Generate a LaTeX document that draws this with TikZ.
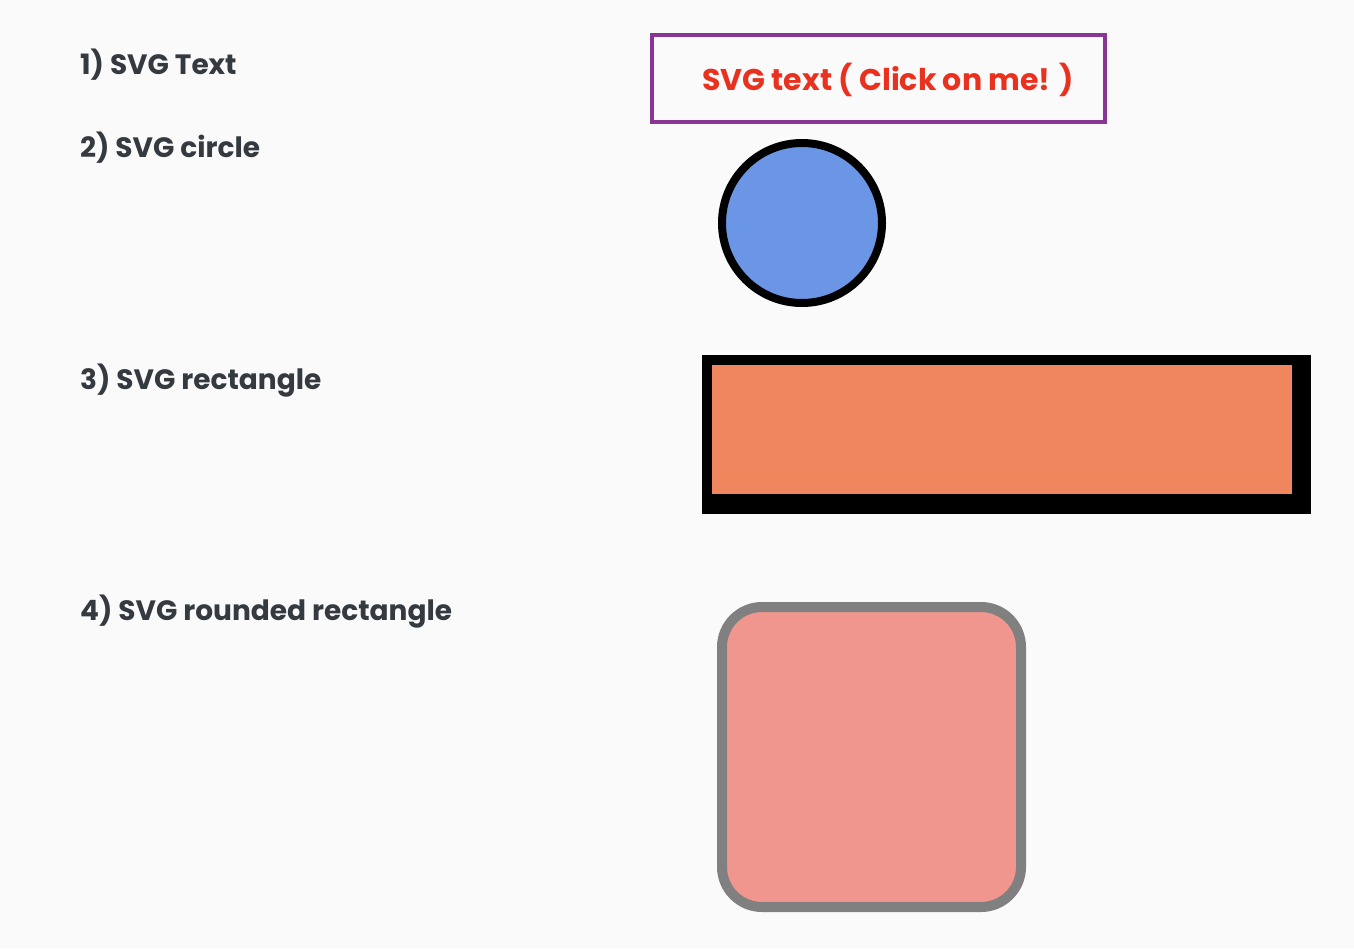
\documentclass[tikz,border=0pt]{standalone}
\usepackage{fontspec}
\setmainfont{Poppins}
\usepackage{xcolor}
\usepackage{tikz}
\definecolor{bg}{HTML}{FAFAFA}
\definecolor{ink}{HTML}{343A40}
\definecolor{redtext}{HTML}{E8321F}
\definecolor{purpleline}{HTML}{883594}
\definecolor{bluefill}{HTML}{6B96E6}
\definecolor{orangefill}{HTML}{EF865E}
\definecolor{salmon}{HTML}{F1968E}
\definecolor{grayline}{HTML}{808080}
\tikzset{
  itemlabel/.style={anchor=base west, inner sep=0pt, text=ink, font=\fontsize{28}{34}\selectfont\bfseries},
  clicktext/.style={anchor=base west, inner sep=0pt, text=redtext, font=\fontsize{30}{36}\selectfont\bfseries},
  tight/.style={inner sep=0pt, outer sep=0pt}
}
\begin{document}
\begin{tikzpicture}[x=1pt,y=-1pt]
  \fill[bg] (0,0) rectangle (1354,948);
  \useasboundingbox (0,0) rectangle (1354,948);
  % labels on the left
  \node[itemlabel] (lbltext) at (80,74) {1) SVG Text};
  \node[itemlabel] (lblcircle) at (80,157) {2) SVG circle};
  \node[itemlabel] (lblrect) at (80,389) {3) SVG rectangle};
  \node[itemlabel] (lblround) at (80,620) {4) SVG rounded rectangle};
  % 1) text in a box
  \draw[purpleline, line width=4pt] (652,35) rectangle (1105,122);
  \node[clicktext] (click) at (702,90) {SVG text ( Click on me! )};
  % 2) circle
  \node[tight, circle, draw=black, fill=bluefill, line width=8pt, minimum size=160pt] (circ) at (802,223) {};
  % 3) rectangle
  \fill[black] (702,355) rectangle (1311,514);
  \fill[orangefill] (712,365) rectangle (1292,494);
  % 4) rounded rectangle
  \draw[grayline, fill=salmon, line width=10pt, rounded corners=40pt] (722,607) rectangle (1021,907);
\end{tikzpicture}
\end{document}
